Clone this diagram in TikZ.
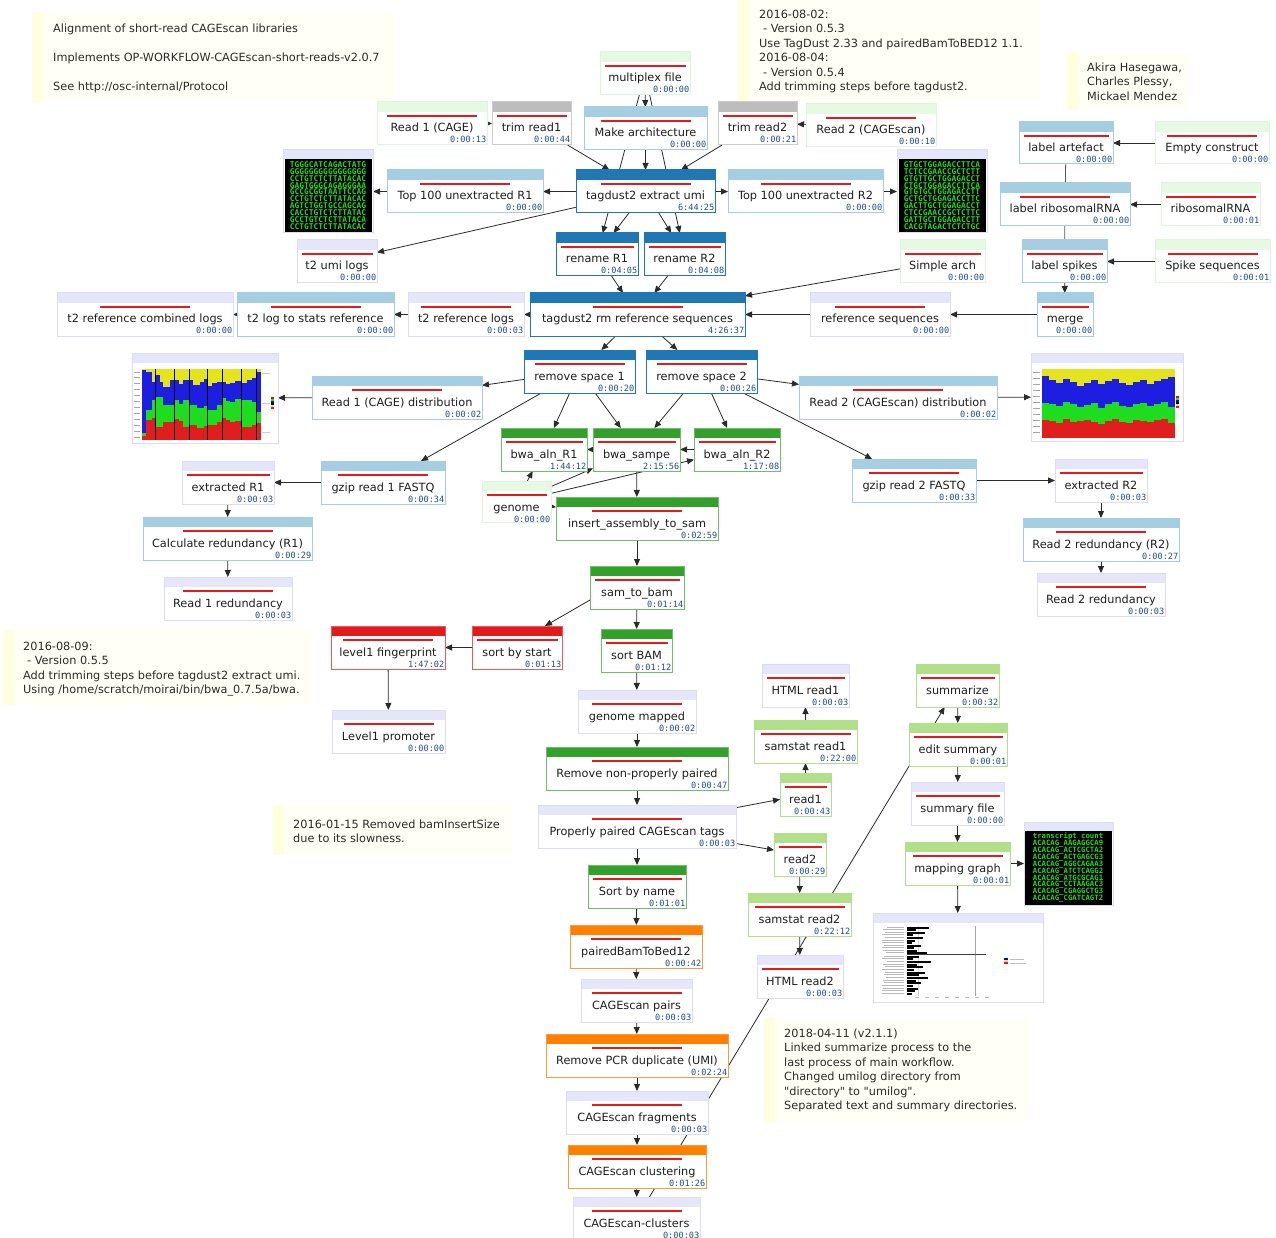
\documentclass[tikz,border=0pt]{standalone}
\usepackage{fontspec}
\setmainfont{DejaVu Sans}
\newfontfamily\tsfont{DejaVu Sans Mono}
\usetikzlibrary{arrows.meta}
\pgfdeclarelayer{bg}
\pgfsetlayers{bg,main}
\definecolor{hdb}{HTML}{1F78B4}\definecolor{bdb}{HTML}{1F78B4}
\definecolor{hlb}{HTML}{A6CEE3}\definecolor{blb}{HTML}{A6CEE3}
\definecolor{hg}{HTML}{33A02C}\definecolor{bg}{HTML}{6CC066}
\definecolor{hlg}{HTML}{B2DF8A}\definecolor{blg}{HTML}{B2DF8A}
\definecolor{hr}{HTML}{E31A1C}\definecolor{br}{HTML}{EA5A5B}
\definecolor{ho}{HTML}{FF7F00}\definecolor{bo}{HTML}{FF9933}
\definecolor{hgr}{HTML}{BDBDBD}\definecolor{bgr}{HTML}{CCCCCC}
\definecolor{hlav}{HTML}{E6E6FA}\definecolor{blav}{HTML}{DCDCF5}
\definecolor{hpg}{HTML}{E6FAE3}\definecolor{bpg}{HTML}{DDF5DA}
\definecolor{rulec}{HTML}{E41A1C}
\definecolor{tsc}{HTML}{1F4E8C}
\definecolor{lblc}{HTML}{1E1E1E}
\definecolor{notec}{HTML}{2A2A2A}
\definecolor{edgec}{HTML}{2A2A2A}
\definecolor{notef}{HTML}{FFFFF5}
\definecolor{notes}{HTML}{FFFFE0}
\definecolor{seqg}{HTML}{22DD22}
\definecolor{chy}{RGB}{228,228,30}
\definecolor{chb}{RGB}{30,30,225}
\definecolor{chg}{RGB}{30,220,30}
\definecolor{chr}{RGB}{225,30,30}
\newcommand\dq{{\XeTeXglyph\XeTeXglyphindex "quotedbl"\relax}}
\newcommand\seqfont{\tsfont\bfseries\fontsize{7.9}{6.9}\selectfont\lineskiplimit-20pt\relax}
\newcommand\tabfont{\tsfont\bfseries\fontsize{7.3}{6.95}\selectfont\lineskiplimit-20pt\relax}
\tikzset{
  box/.style={rectangle,inner sep=0pt,outer sep=0pt,fill=white},
  lbl/.style={inner sep=0pt,anchor=base,text=lblc,font=\fontsize{11.3}{13}\selectfont},
  ts/.style={inner sep=0pt,anchor=base east,text=tsc,font=\tsfont\fontsize{8.6}{9}\selectfont},
  e/.style={draw=edgec,line width=0.8pt,-{Triangle[length=7pt,width=6pt]}},
  ne/.style={draw=edgec!80,line width=0.8pt},
  notebox/.style={rectangle,inner sep=0pt,outer sep=0pt,fill=notef},
  notetxt/.style={inner sep=0pt,anchor=north west,align=left,text=notec,font=\fontsize{11.3}{14.5}\selectfont},
  seqtxt/.style={inner sep=0pt,align=center,text=seqg,font=\seqfont},
}
\newcommand\pn[8]{%
  \pgfmathsetmacro\pnX{(#2+#4)/2}%
  \pgfmathsetmacro\pnY{(#3+#5)/2}%
  \pgfmathsetmacro\pnW{#4-#2}%
  \pgfmathsetmacro\pnH{#5-#3}%
  \pgfmathsetmacro\pnR{min(90,\pnW-9)/2}%
  \node[box,minimum width=\pnW pt,minimum height=\pnH pt] (#1) at (\pnX,\pnY) {};
  \fill[h#6] (#1.north west) rectangle ([yshift=-10pt]#1.north east);
  \draw[b#6,line width=1pt] (#1.north west) rectangle (#1.south east);
  \draw[rulec,line width=2pt] ([xshift=-\pnR pt,yshift=-14pt]#1.north) -- ([xshift=\pnR pt,yshift=-14pt]#1.north);
  \node[lbl] at ([yshift=-30pt]#1.north) {#7};
  \node[ts] at ([xshift=-0.5pt,yshift=-41pt]#1.north east) {#8};
}
\newcommand\imgn[5]{%
  \pgfmathsetmacro\pnX{(#2+#4)/2}%
  \pgfmathsetmacro\pnY{(#3+#5)/2}%
  \pgfmathsetmacro\pnW{#4-#2}%
  \pgfmathsetmacro\pnH{#5-#3}%
  \node[box,minimum width=\pnW pt,minimum height=\pnH pt] (#1) at (\pnX,\pnY) {};
  \fill[hlav] (#1.north west) rectangle ([yshift=-10pt]#1.north east);
  \draw[blav,line width=1pt] (#1.north west) rectangle (#1.south east);
}
\newcommand\notebg[5]{%
  \pgfmathsetmacro\pnX{(#2+#4)/2}%
  \pgfmathsetmacro\pnY{(#3+#5)/2}%
  \pgfmathsetmacro\pnW{#4-#2}%
  \pgfmathsetmacro\pnH{#5-#3}%
  \node[notebox,minimum width=\pnW pt,minimum height=\pnH pt] (#1) at (\pnX,\pnY) {};
  \fill[notes] (#1.north west) rectangle ([xshift=11pt]#1.south west);
}
\begin{document}
\begin{tikzpicture}[x=1pt,y=-1pt]
\begin{pgfonlayer}{bg}
\fill[white] (0,0) rectangle (1276,1238);
\end{pgfonlayer}
\useasboundingbox (0,0) rectangle (1276,1238);

% ---------- notes ----------
\notebg{note1}{32}{12}{395}{102}
\node[notetxt] (note1t) at (53,23.5) {Alignment of short-read CAGEscan libraries\\[14.5pt]Implements OP-WORKFLOW-CAGEscan-short-reads-v2.0.7\\[14.5pt]See http://osc-internal/Protocol};
\notebg{note2}{738}{0}{1040}{102}
\node[notetxt] (note2t) at (759,9.5) {2016-08-02:\\\hspace*{4pt}- Version 0.5.3\\Use TagDust 2.33 and pairedBamToBED12 1.1.\\2016-08-04:\\\hspace*{4pt}- Version 0.5.4\\Add trimming steps before tagdust2.};
\notebg{note3}{1067}{52}{1190}{110}
\node[notetxt] (note3t) at (1087,62.5) {Akira Hasegawa,\\Charles Plessy,\\Mickael Mendez};
\notebg{note4}{3}{630}{312}{705}
\node[notetxt] (note4t) at (23,641.5) {2016-08-09:\\\hspace*{4pt}- Version 0.5.5\\Add trimming steps before tagdust2 extract umi.\\Using /home/scratch/moirai/bin/bwa\_0.7.5a/bwa.};
\notebg{note5}{273}{805}{512}{855}
\node[notetxt] (note5t) at (293,819.5) {2016-01-15 Removed bamInsertSize\\due to its slowness.};
\notebg{note6}{764}{1018}{1030}{1122}
\node[notetxt] (note6t) at (784,1028.5) {2018-04-11 (v2.1.1)\\Linked summarize process to the\\last process of main workflow.\\Changed umilog directory from\\\dq directory\dq\ to \dq umilog\dq.\\Separated text and summary directories.};

% ---------- process nodes ----------
\pn{mult}{600}{52}{690}{95}{pg}{multiplex file}{0:00:00}
\pn{r1cage}{377}{102}{487}{145}{pg}{Read 1 (CAGE)}{0:00:13}
\pn{trim1}{492}{102}{571}{145}{gr}{trim read1}{0:00:44}
\pn{march}{584}{107}{707}{150}{lb}{Make architecture}{0:00:00}
\pn{trim2}{718}{102}{797}{145}{gr}{trim read2}{0:00:21}
\pn{r2cage}{806}{104}{936}{147}{pg}{Read 2 (CAGEscan)}{0:00:10}
\pn{top1}{387}{170}{543}{213}{lb}{Top 100 unextracted R1}{0:00:00}
\pn{tag}{576}{170}{715}{213}{db}{tagdust2 extract umi}{6:44:25}
\pn{top2}{728}{170}{883}{213}{lb}{Top 100 unextracted R2}{0:00:00}
\pn{lart}{1019}{122}{1113}{164}{lb}{label artefact}{0:00:00}
\pn{empty}{1155}{122}{1269}{164}{pg}{Empty construct}{0:00:00}
\pn{lribo}{1000}{183}{1130}{226}{lb}{label ribosomalRNA}{0:00:00}
\pn{ribo}{1161}{183}{1260}{226}{pg}{ribosomalRNA}{0:00:01}
\pn{ren1}{556}{233}{638}{276}{db}{rename R1}{0:04:05}
\pn{ren2}{644}{233}{725}{276}{db}{rename R2}{0:04:08}
\pn{umilogs}{297}{240}{377}{283}{lav}{t2 umi logs}{0:00:00}
\pn{sarch}{900}{240}{985}{283}{pg}{Simple arch}{0:00:00}
\pn{lspk}{1022}{240}{1107}{283}{lb}{label spikes}{0:00:00}
\pn{spike}{1155}{240}{1270}{283}{pg}{Spike sequences}{0:00:01}
\pn{t2comb}{57}{293}{233}{336}{lav}{t2 reference combined logs}{0:00:00}
\pn{t2stat}{237}{293}{394}{336}{lb}{t2 log to stats reference}{0:00:00}
\pn{t2ref}{408}{293}{524}{336}{lav}{t2 reference logs}{0:00:03}
\pn{tagrm}{530}{293}{745}{336}{db}{tagdust2 rm reference sequences}{4:26:37}
\pn{refseq}{810}{293}{950}{336}{lav}{reference sequences}{0:00:00}
\pn{merge}{1037}{293}{1093}{336}{lb}{merge}{0:00:00}
\pn{rs1}{524}{350}{635}{393}{db}{remove space 1}{0:00:20}
\pn{rs2}{646}{350}{757}{393}{db}{remove space 2}{0:00:26}
\pn{dist1}{312}{376}{482}{419}{lb}{Read 1 (CAGE) distribution}{0:00:02}
\pn{dist2}{799}{376}{997}{419}{lb}{Read 2 (CAGEscan) distribution}{0:00:02}
\pn{bwa1}{501}{428}{587}{471}{g}{bwa\_aln\_R1}{1:44:12}
\pn{sampe}{593}{428}{680}{471}{g}{bwa\_sampe}{2:15:56}
\pn{bwa2}{694}{428}{780}{471}{g}{bwa\_aln\_R2}{1:17:08}
\pn{ext1}{182}{461}{274}{504}{lav}{extracted R1}{0:00:03}
\pn{gz1}{321}{461}{445}{504}{lb}{gzip read 1 FASTQ}{0:00:34}
\pn{genome}{482}{481}{551}{522}{pg}{genome}{0:00:00}
\pn{gz2}{852}{459}{976}{502}{lb}{gzip read 2 FASTQ}{0:00:33}
\pn{ext2}{1055}{459}{1147}{502}{lav}{extracted R2}{0:00:03}
\pn{ins}{556}{497}{718}{540}{g}{insert\_assembly\_to\_sam}{0:02:59}
\pn{calc1}{143}{517}{312}{560}{lb}{Calculate redundancy (R1)}{0:00:29}
\pn{red2r}{1023}{518}{1179}{561}{lb}{Read 2 redundancy (R2)}{0:00:27}
\pn{red1}{164}{577}{292}{620}{lav}{Read 1 redundancy}{0:00:03}
\pn{red2}{1037}{573}{1165}{616}{lav}{Read 2 redundancy}{0:00:03}
\pn{s2b}{590}{566}{684}{609}{g}{sam\_to\_bam}{0:01:14}
\pn{l1fp}{331}{626}{445}{669}{r}{level1 fingerprint}{1:47:02}
\pn{sbs}{472}{626}{562}{669}{r}{sort by start}{0:01:13}
\pn{sbam}{601}{629}{672}{672}{g}{sort BAM}{0:01:12}
\pn{l1prom}{332}{710}{445}{753}{lav}{Level1 promoter}{0:00:00}
\pn{gmap}{578}{690}{696}{733}{lav}{genome mapped}{0:00:02}
\pn{html1}{762}{664}{849}{707}{lav}{HTML read1}{0:00:03}
\pn{summ}{916}{664}{999}{707}{lg}{summarize}{0:00:32}
\pn{ss1}{754}{720}{857}{763}{lg}{samstat read1}{0:22:00}
\pn{edit}{909}{723}{1007}{766}{lg}{edit summary}{0:00:01}
\pn{rnp}{546}{747}{728}{790}{g}{Remove non-properly paired}{0:00:47}
\pn{read1}{780}{773}{831}{816}{lg}{read1}{0:00:43}
\pn{sfile}{911}{782}{1004}{825}{lav}{summary file}{0:00:00}
\pn{pp}{538}{805}{736}{848}{lav}{Properly paired CAGEscan tags}{0:00:03}
\pn{read2}{774}{833}{826}{876}{lg}{read2}{0:00:29}
\pn{mgraph}{905}{842}{1010}{885}{lg}{mapping graph}{0:00:01}
\pn{sbn}{588}{865}{686}{908}{g}{Sort by name}{0:01:01}
\pn{ss2}{748}{893}{851}{936}{lg}{samstat read2}{0:22:12}
\pn{pbb}{570}{925}{702}{968}{o}{pairedBamToBed12}{0:00:42}
\pn{html2}{757}{955}{843}{998}{lav}{HTML read2}{0:00:03}
\pn{pairs}{581}{979}{692}{1022}{lav}{CAGEscan pairs}{0:00:03}
\pn{pcr}{546}{1034}{728}{1077}{o}{Remove PCR duplicate (UMI)}{0:02:24}
\pn{frag}{566}{1091}{708}{1134}{lav}{CAGEscan fragments}{0:00:03}
\pn{clust}{568}{1145}{706}{1188}{o}{CAGEscan clustering}{0:01:26}
\pn{clusters}{573}{1197}{700}{1240}{lav}{CAGEscan-clusters}{0:00:03}

% ---------- image nodes ----------
\imgn{seq1}{283}{150}{373}{233}
\fill[black] (284.5,159.5) rectangle (371.5,232);
\node[seqtxt] (seq1t) at (328,195.5) {TGGGCATCAGACTATG\\GGGGGGGGGGGGGGGG\\CCTGTCTCTTATACAC\\GAGTGGGCAGAGGGAA\\GCCGCGGTAATTCCAG\\CCTGTCTCTTATACAC\\AGTCTGGTGCCAGCAG\\CACCTGTCTCTTATAC\\GCCTGTCTCTTATACA\\CCTGTCTCTTATACAC};
\imgn{seq2}{897}{150}{987}{233}
\fill[black] (898.5,159.5) rectangle (985.5,232);
\node[seqtxt] (seq2t) at (942,195.5) {GTGCTGGAGACCTTCA\\TCTCCGAACCGCTCTT\\GTGTTGCTGGAGACCT\\CTGCTGGAGACCTTCA\\GTGTGCTGGAGACCTT\\GCTGCTGGAGACCTTC\\GACTTGCTGGAGACCT\\CTCCGAACCGCTCTTC\\GATTGCTGGAGACCTT\\CACGTAGACTCTCTGC};
\imgn{table}{1024}{822}{1113}{905}
\fill[black] (1025,831) rectangle (1112,904.5);
\node[seqtxt,font=\tabfont] (tablet) at (1068,867.5) {transcript count\\ACACAG\_AAGAGGCA9\\ACACAG\_ACTCGCTA2\\ACACAG\_ACTGAGCG3\\ACACAG\_AGGCAGAA3\\ACACAG\_ATCTCAGG2\\ACACAG\_ATGCGCAG1\\ACACAG\_CCTAAGAC3\\ACACAG\_CGAGGCTG3\\ACACAG\_CGATCAGT2};

% chart 1
\imgn{chart1}{132}{353}{278}{443}
\foreach \a/\b/\yy/\yb/\yg in {142/146/370/433/436,146/152/372/410/420,152/156/382/400/418,156/160/375/397/427,160/163/382/397/427,163/170/387/405/422,170/174/380/405/422,174/179/380/400/419,179/183/384/404/421,183/189/380/400/427,189/193/380/405/425,193/197/385/405/425,197/200/385/408/428,200/204/382/408/428,204/208/379/406/426,208/212/386/410/425,212/217/383/410/425,217/222/382/405/422,222/226/382/398/418,226/230/384/401/420,230/235/383/402/422,235/241/381/399/421,241/247/383/400/427,247/252/380/400/427,252/256/378/402/425,256/261/372/412/423}{
  \fill[chy] (\a,369) rectangle (\b,\yy);
  \fill[chb] (\a,\yy) rectangle (\b,\yb);
  \fill[chg] (\a,\yb) rectangle (\b,\yg);
  \fill[chr] (\a,\yg) rectangle (\b,440);
}
\foreach \x in {155.7,174.3,189.3,207.7,222.3,241,256}{\draw[black,line width=0.8pt] (\x,369) -- (\x,440);}
\foreach \yv in {372,377,383,389,395,401,407,413,419,425,431,437}{\draw[gray!70,line width=0.7pt] (134,\yv) -- (140,\yv);}
\foreach \yv in {373,403,432}{\draw[gray!40,line width=1pt] (262,\yv) -- (270,\yv);}
\foreach \yv/\c in {397/red,399/green,401/blue,403/black,405/yellow,407/magenta}{\fill[\c] (271,\yv) rectangle (274,\yv+2);}

% chart 2
\imgn{chart2}{1031}{353}{1183}{441}
\foreach \a/\b/\yy/\yb/\yg in {1042/1049/376/403/420,1049/1056/380/404/421,1056/1063/383/406/423,1063/1070/379/402/419,1070/1077/382/404/422,1077/1084/386/407/421,1084/1091/383/405/420,1091/1098/380/403/422,1098/1105/384/408/424,1105/1112/381/404/421,1112/1119/379/402/419,1119/1126/383/406/422,1126/1133/385/407/423,1133/1140/382/404/420,1140/1147/380/403/421,1147/1154/384/406/422,1154/1161/381/404/420,1161/1168/379/402/419,1168/1175/377/407/423}{
  \fill[chy] (\a,369) rectangle (\b,\yy);
  \fill[chb] (\a,\yy) rectangle (\b,\yb);
  \fill[chg] (\a,\yb) rectangle (\b,\yg);
  \fill[chr] (\a,\yg) rectangle (\b,438);
}
\foreach \yv in {372,378,384,390,396,402,408,414,420,426,432}{\draw[gray!70,line width=0.7pt] (1033,\yv) -- (1040,\yv);}
\foreach \yv/\c in {396/red,398/green,400/blue,402/black,404/yellow,406/magenta}{\fill[\c] (1176,\yv) rectangle (1179,\yv+2);}

% bar chart
\imgn{bars}{873}{913}{1043}{1002}
\draw[gray!35,line width=0.8pt] (918,926) -- (918,996);
\draw[gray!70,line width=0.8pt] (975,926) -- (975,996);
\foreach \yv/\len in {927/22,929/9,932/18,934/6,937/16,940/8,942/5,945/14,947/7,950/10,952/20,956/12,958/6,961/24,964/10,966/16,969/7,972/18,974/12,977/21,980/9,982/14,985/6,988/11,990/8,993/5}{
  \fill[black] (907,\yv) rectangle (907+\len,\yv+1.6);
  \fill[gray!55] (880+0.3*\len,\yv) rectangle (904,\yv+1);
}
\draw[black!75,line width=1pt] (907,954) -- (986,954);
\foreach \yv/\c in {958/blue,960/yellow,962/magenta}{\fill[\c] (1004,\yv) rectangle (1008,\yv+2);}
\fill[gray!50] (1010,959) rectangle (1024,960);
\fill[gray!50] (1010,963) rectangle (1026,964);
\foreach \x in {915,925,935,945,955,965,975,985}{\fill[gray!50] (\x,997) rectangle (\x+4,998);}

% ---------- connectors ----------
\begin{pgfonlayer}{bg}
\draw[e] (r1cage) -- (trim1);
\draw[e] (trim1) -- (tag);
\draw[e] (march) -- (tag);
\draw[e] (trim2) -- (tag);
\draw[e] (r2cage) -- (trim2);
\draw[e] (mult) -- (march);
\draw[e] (mult) -- (ren1);
\draw[e] (mult) -- (ren2);
\draw[e] (tag) -- (ren1);
\draw[e] (tag) -- (ren2);
\draw[e] (tag) -- (top1);
\draw[e] (tag) -- (top2);
\draw[e] (top1) -- (seq1);
\draw[e] (top2) -- (seq2);
\draw[e] (tag) -- (umilogs);
\draw[e] (ren1) -- (tagrm);
\draw[e] (ren2) -- (tagrm);
\draw[e] (sarch) -- (tagrm);
\draw[e] (refseq) -- (tagrm);
\draw[e] (merge) -- (refseq);
\draw[ne] (lart) -- (lribo);
\draw[ne] (lribo) -- (lspk);
\draw[e] (lspk) -- (merge);
\draw[e] (empty) -- (lart);
\draw[e] (ribo) -- (lribo);
\draw[e] (spike) -- (lspk);
\draw[e] (tagrm) -- (t2ref);
\draw[e] (t2ref) -- (t2stat);
\draw[e] (t2stat) -- (t2comb);
\draw[e] (tagrm) -- (rs1);
\draw[e] (tagrm) -- (rs2);
\draw[e] (rs1) -- (dist1);
\draw[e] (dist1) -- (chart1);
\draw[e] (rs2) -- (dist2);
\draw[e] (dist2) -- (chart2);
\draw[e] (rs1) -- (bwa1);
\draw[e] (rs1) -- (sampe);
\draw[e] (rs1) -- (gz1);
\draw[e] (rs2) -- (sampe);
\draw[e] (rs2) -- (bwa2);
\draw[e] (rs2) -- (gz2);
\draw[e] (sampe) -- (bwa1);
\draw[e] (bwa2) -- (sampe);
\draw[e] (genome) -- (bwa1);
\draw[e] (genome) -- (sampe);
\draw[e] (genome) -- (bwa2);
\draw[e] (genome) -- (ins);
\draw[e] (sampe) -- (ins);
\draw[e] (gz1) -- (ext1);
\draw[e] (ext1) -- (calc1);
\draw[e] (calc1) -- (red1);
\draw[e] (gz2) -- (ext2);
\draw[e] (ext2) -- (red2r);
\draw[e] (red2r) -- (red2);
\draw[e] (ins) -- (s2b);
\draw[e] ([yshift=9pt]s2b.south west) -- ([xshift=-17pt]sbs.north east);
\draw[e] (s2b) -- (sbam);
\draw[e] (sbs) -- (l1fp);
\draw[e] (l1fp) -- (l1prom);
\draw[e] (sbam) -- (gmap);
\draw[e] (gmap) -- (rnp);
\draw[e] (rnp) -- (pp);
\draw[e] (pp) -- (read1);
\draw[e] (pp) -- (read2);
\draw[e] (pp) -- (sbn);
\draw[e] (read1) -- (ss1);
\draw[e] (ss1) -- (html1);
\draw[e] (read2) -- (ss2);
\draw[e] (ss2) -- (html2);
\draw[e] (sbn) -- (pbb);
\draw[e] (pbb) -- (pairs);
\draw[e] (pairs) -- (pcr);
\draw[e] (pcr) -- (frag);
\draw[e] (frag) -- (clust);
\draw[e] (clust) -- (clusters);
\draw[e] (clusters) -- (summ);
\draw[e] (summ) -- (edit);
\draw[e] (edit) -- (sfile);
\draw[e] (sfile) -- (mgraph);
\draw[e] (mgraph) -- (table);
\draw[e] (mgraph) -- (bars);
\end{pgfonlayer}
\end{tikzpicture}
\end{document}
